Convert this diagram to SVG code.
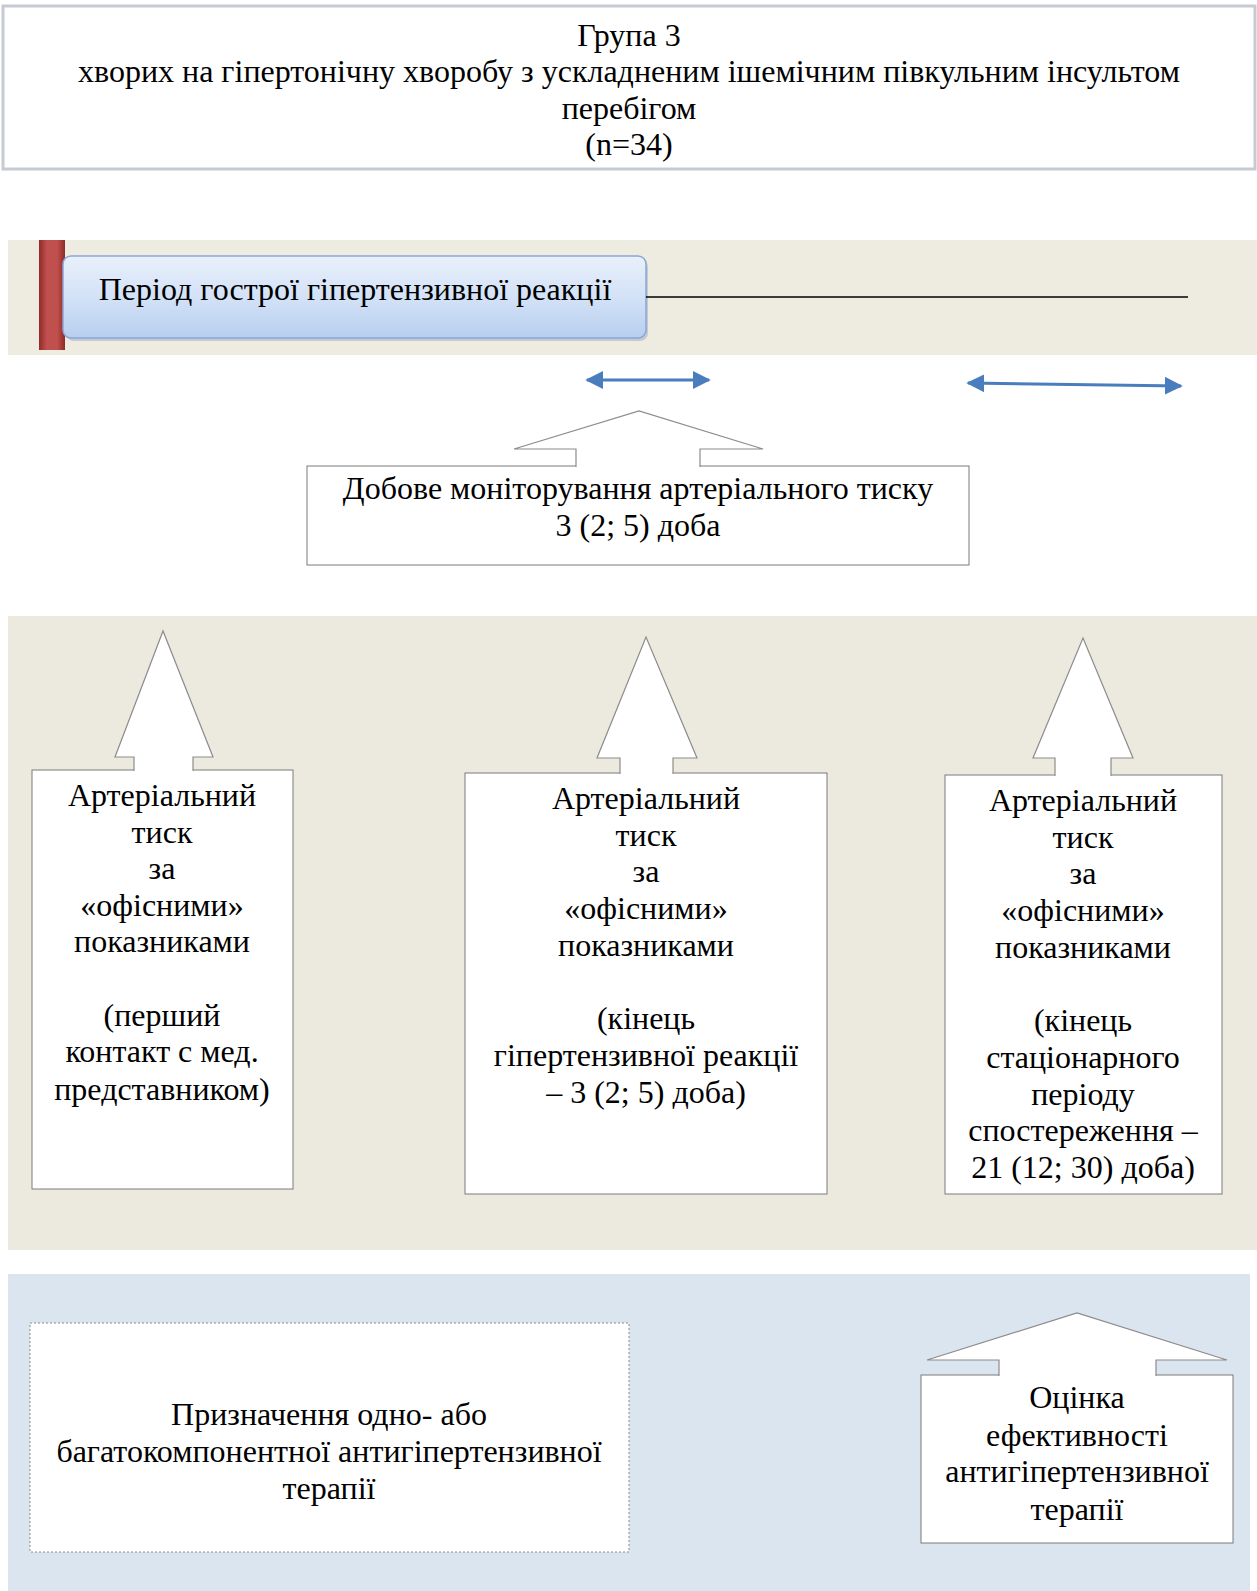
<svg xmlns="http://www.w3.org/2000/svg" width="1257" height="1591" viewBox="0 0 1257 1591">
<defs>
<style>
text{font-family:"Liberation Serif","Times New Roman",serif;font-size:32px;fill:#000;text-anchor:middle}
.box{fill:#fff;stroke:#7a7a7a;stroke-width:1}
.arr{fill:#fff;stroke:#8c8c8c;stroke-width:1.2}
.blue{stroke:#4a7dbd;stroke-width:3;fill:none}
</style>
<linearGradient id="gBlue" x1="0" y1="0" x2="0" y2="1">
<stop offset="0" stop-color="#e9f0fb"/>
<stop offset="0.5" stop-color="#d3e2f7"/>
<stop offset="1" stop-color="#b7cfef"/>
</linearGradient>
<linearGradient id="gRed" x1="0" y1="0" x2="1" y2="0">
<stop offset="0" stop-color="#8f2a28"/>
<stop offset="0.3" stop-color="#c0504d"/>
<stop offset="0.7" stop-color="#c0504d"/>
<stop offset="1" stop-color="#8f2a28"/>
</linearGradient>
<marker id="ah" viewBox="0 0 10 10" refX="9" refY="5" markerWidth="6" markerHeight="6" orient="auto-start-reverse" markerUnits="strokeWidth">
<path d="M0,0 L10,5 L0,10 z" fill="#4a7dbd"/>
</marker>
</defs>

<!-- background bands -->
<rect x="8" y="240" width="1249" height="115" fill="#eeece1"/>
<rect x="8" y="616" width="1249" height="634" fill="#eceadf"/>
<rect x="8" y="1274" width="1242" height="317" fill="#dbe5f0"/>

<g id="title">
<rect x="3" y="6" width="1252" height="163" fill="#fff" stroke="#c5cad3" stroke-width="3"/>
<text x="629" y="46">Група 3</text>
<text x="629" y="82">хворих на гіпертонічну хворобу з ускладненим ішемічним півкульним інсультом</text>
<text x="629" y="119">перебігом</text>
<text x="629" y="155">(n=34)</text>
</g>

<g id="period">
<rect x="39" y="240" width="26" height="110" fill="url(#gRed)"/>
<rect x="66" y="259" width="582" height="82" rx="8" fill="#9aa9bf" opacity="0.5"/>
<rect x="63" y="256" width="583" height="82" rx="8" fill="url(#gBlue)" stroke="#8aa6d6" stroke-width="1.5"/>
<text x="355" y="300">Період гострої гіпертензивної реакції</text>
</g>

<g id="monitoring">
<rect class="box" x="307" y="466" width="662" height="99"/>
<path class="arr" d="M576,467 L576,449 L514,449 L639,411 L763,449 L700,449 L700,467"/>
<text x="638" y="499">Добове моніторування артеріального тиску</text>
<text x="638" y="536">3 (2; 5) доба</text>
</g>

<g id="bp1">
<rect class="box" x="32" y="770" width="261" height="419"/>
<path class="arr" d="M134,771 L134,757 L115,757 L163,631 L213,757 L193,757 L193,771"/>
<text x="162" y="806">Артеріальний</text>
<text x="162" y="843">тиск</text>
<text x="162" y="879">за</text>
<text x="162" y="916">«офісними»</text>
<text x="162" y="952">показниками</text>
<text x="162" y="1026">(перший</text>
<text x="162" y="1062">контакт с мед.</text>
<text x="162" y="1100">представником)</text>
</g>

<g id="bp2">
<rect class="box" x="465" y="773" width="362" height="421"/>
<path class="arr" d="M620,774 L620,758 L597,758 L646,637 L697,758 L673,758 L673,774"/>
<text x="646" y="809">Артеріальний</text>
<text x="646" y="846">тиск</text>
<text x="646" y="882">за</text>
<text x="646" y="919">«офісними»</text>
<text x="646" y="956">показниками</text>
<text x="646" y="1029">(кінець</text>
<text x="646" y="1066">гіпертензивної реакції</text>
<text x="646" y="1103">– 3 (2; 5) доба)</text>
</g>

<g id="bp3">
<rect class="box" x="945" y="775" width="277" height="419"/>
<path class="arr" d="M1055,776 L1055,758 L1033,758 L1083,638 L1133,758 L1111,758 L1111,776"/>
<text x="1083" y="811">Артеріальний</text>
<text x="1083" y="848">тиск</text>
<text x="1083" y="884">за</text>
<text x="1083" y="921">«офісними»</text>
<text x="1083" y="958">показниками</text>
<text x="1083" y="1031">(кінець</text>
<text x="1083" y="1068">стаціонарного</text>
<text x="1083" y="1105">періоду</text>
<text x="1083" y="1141">спостереження –</text>
<text x="1083" y="1178">21 (12; 30) доба)</text>
</g>

<g id="therapy">
<rect x="30" y="1323" width="599" height="229" fill="#fff" stroke="#8a8a8a" stroke-width="1" stroke-dasharray="2,2"/>
<text x="329" y="1425">Призначення одно- або</text>
<text x="329" y="1462">багатокомпонентної антигіпертензивної</text>
<text x="329" y="1499">терапії</text>
</g>

<g id="evaluation">
<rect class="box" x="921" y="1375" width="312" height="168"/>
<path class="arr" d="M999,1376 L999,1360 L927,1360 L1077,1313 L1227,1360 L1156,1360 L1156,1376"/>
<text x="1077" y="1408">Оцінка</text>
<text x="1077" y="1446">ефективності</text>
<text x="1077" y="1482">антигіпертензивної</text>
<text x="1077" y="1520">терапії</text>
</g>

<g id="connectors">
<line x1="646" y1="297" x2="1188" y2="297" stroke="#000" stroke-width="1.5"/>
<line class="blue" x1="587" y1="380" x2="709" y2="380" marker-start="url(#ah)" marker-end="url(#ah)"/>
<line class="blue" x1="968" y1="383" x2="1181" y2="386" marker-start="url(#ah)" marker-end="url(#ah)"/>
</g>
</svg>
